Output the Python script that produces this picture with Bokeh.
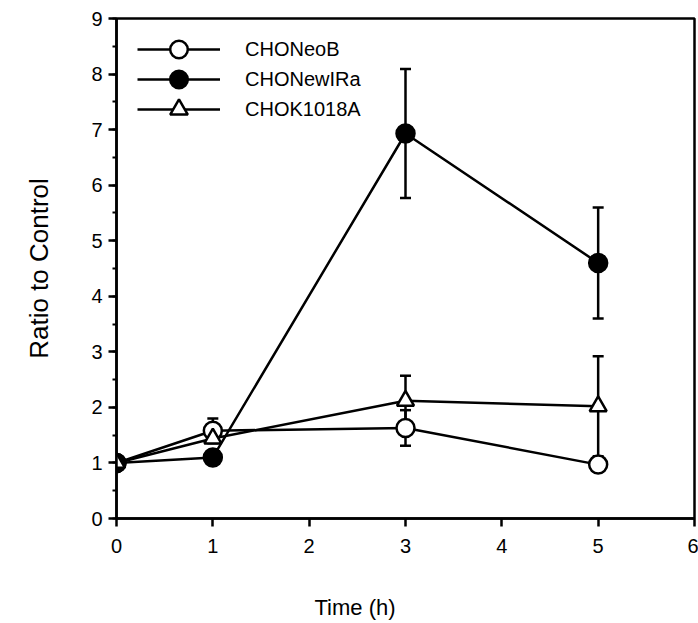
from bokeh.plotting import figure
from bokeh.models import (Range1d, SingleIntervalTicker, Whisker, TeeHead,
                          ColumnDataSource, Legend, LegendItem, Title)
from bokeh.embed import file_html
from bokeh.resources import INLINE

time = [0, 1, 3, 5]
neob = [1.0, 1.58, 1.63, 0.97]
neob_err = [0.0, 0.22, 0.32, 0.13]
newira = [1.0, 1.10, 6.93, 4.60]
newira_err = [0.0, 0.0, 1.16, 1.0]
k1018a = [1.0, 1.44, 2.12, 2.02]
k1018a_err = [0.0, 0.08, 0.45, 0.90]
series_names = ["CHONeoB", "CHONewIRa", "CHOK1018A"]

FONT = "Liberation Sans"

p = figure(frame_width=578, frame_height=500, output_backend="svg",
           toolbar_location=None, x_range=Range1d(0, 6), y_range=Range1d(0, 9),
           min_border_left=116, min_border_top=18, min_border_right=4,
           min_border_bottom=97)
p.grid.visible = False
p.outline_line_color = "black"
p.outline_line_width = 2.5
p.background_fill_color = "white"
p.border_fill_color = "white"

p.xaxis.ticker = SingleIntervalTicker(interval=1, num_minor_ticks=0)
p.yaxis.ticker = SingleIntervalTicker(interval=1, num_minor_ticks=2)
for ax in (p.xaxis[0], p.yaxis[0]):
    ax.axis_line_width = 2.5
    ax.axis_line_color = "black"
    ax.major_tick_line_width = 2.5
    ax.major_tick_line_color = "black"
    ax.major_tick_in = 0
    ax.major_tick_out = 8
    ax.minor_tick_in = 0
    ax.minor_tick_out = 4
    ax.minor_tick_line_width = 2
    ax.minor_tick_line_color = "black"
    ax.major_label_text_font = FONT
    ax.major_label_text_font_size = "20px"
    ax.major_label_text_color = "black"
    ax.axis_label_text_font = FONT
    ax.axis_label_text_font_size = "26px"
    ax.axis_label_text_font_style = "normal"
    ax.axis_label_text_color = "black"
p.yaxis.axis_label = "Ratio to Control"
p.xaxis.major_label_standoff = 12
p.yaxis.major_label_standoff = 6
p.yaxis.axis_label_standoff = 34

xtitle = Title(text="Time (h)", align="left", offset=198,
               vertical_align="top", standoff=78,
               text_font=FONT, text_font_size="22px",
               text_font_style="normal", text_color="black")
p.add_layout(xtitle, "below")


def add_series(y, err, marker, fill):
    lower = [a - e for a, e in zip(y, err)]
    upper = [a + e for a, e in zip(y, err)]
    xs = [t for t, e in zip(time, err) if e > 0]
    lo = [v for v, e in zip(lower, err) if e > 0]
    up = [v for v, e in zip(upper, err) if e > 0]
    src = ColumnDataSource(dict(x=xs, lower=lo, upper=up))
    w = Whisker(base="x", lower="lower", upper="upper", source=src,
                line_color="black", line_width=2.5, level="underlay",
                upper_head=TeeHead(size=11, line_width=2.5, line_color="black"),
                lower_head=TeeHead(size=11, line_width=2.5, line_color="black"))
    p.add_layout(w)
    lr = p.line(time, y, line_color="black", line_width=2.5)
    sr = p.scatter(time, y, marker=marker, size=18 if marker == "circle" else 17,
                   fill_color=fill, line_color="black", line_width=2.5)
    return [lr, sr]


r1 = add_series(neob, neob_err, "circle", "white")
r2 = add_series(newira, newira_err, "circle", "black")
r3 = add_series(k1018a, k1018a_err, "triangle", "white")

# one legend per row so that the legend markers can be full size
for name, rends, vy in zip(series_names, [r1, r2, r3], [447, 417, 387]):
    lg = Legend(items=[LegendItem(label=name, renderers=rends)],
                location=(21, vy), margin=0, padding=15,
                glyph_width=83, glyph_height=44, spacing=0,
                label_standoff=25, label_text_font=FONT,
                label_text_font_size="20px", label_height=44,
                label_text_color="black",
                border_line_color=None, background_fill_alpha=0)
    p.add_layout(lg)

open("out.html", "w").write(file_html(p, INLINE))
